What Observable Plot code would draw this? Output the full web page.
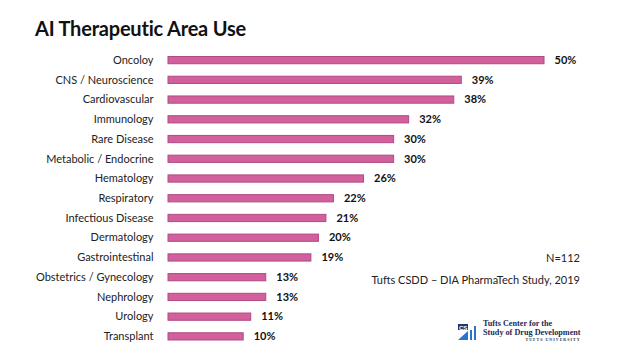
<!DOCTYPE html>
<html>
<head>
<meta charset="utf-8">
<script src="https://cdn.jsdelivr.net/npm/d3@7"></script>
<script src="https://cdn.jsdelivr.net/npm/@observablehq/plot@0.6"></script>
<style>
  html, body { margin: 0; padding: 0; background: #fff; }
  #wrap { position: relative; width: 640px; height: 360px; overflow: hidden; font-family: Lato, "Open Sans", sans-serif; }
  #title { height: 45px; box-sizing: border-box; padding: 16px 0 0 35px; font-size: 20px; font-weight: 700; color: #111; letter-spacing: -0.2px; }
  #chart { height: 315px; }
  #chart svg { display: block; }
  .note { position: absolute; right: 60px; font-size: 11px; color: #222; text-align: right; }
  #logo { position: absolute; left: 458px; top: 320px; display: flex; align-items: center; }
  #logo .icon { width: 20px; height: 16px; margin-right: 5px; }
  #logo .txt { font-family: "Liberation Serif", serif; font-weight: 700; font-size: 8.2px; line-height: 8.5px; color: #1c2a55; }
  #logo .tu { font-size: 4px; letter-spacing: 1px; line-height: 6px; text-align: right; color: #333; }
</style>
</head>
<body>
<div id="wrap">
  <div id="title">AI Therapeutic Area Use</div>
  <div id="chart"></div>
  <div class="note" style="top:251px;">N=112</div>
  <div class="note" style="top:273px;">Tufts CSDD – DIA PharmaTech Study, 2019</div>
  <div id="logo">
    <div class="icon">
      <svg width="20" height="16" viewBox="0 0 20 16">
        <rect x="0" y="0" width="10" height="6" fill="#1e3a70"/>
        <text x="1" y="5.5" font-size="6" fill="#fff" font-family="Liberation Sans" font-weight="700">CS</text>
        <path d="M0 16 L10 7 L10 16 Z" fill="#2a74c9"/>
        <rect x="12" y="6" width="2" height="10" fill="#2a74c9"/>
        <rect x="16" y="2" width="2" height="14" fill="#2a74c9"/>
      </svg>
    </div>
    <div class="txt">Tufts Center for the<br>Study of Drug Development<div class="tu">TUFTS UNIVERSITY</div></div>
  </div>
</div>
<script>
const categories = ["Oncoloy", "CNS / Neuroscience", "Cardiovascular", "Immunology", "Rare Disease", "Metabolic / Endocrine", "Hematology", "Respiratory", "Infectious Disease", "Dermatology", "Gastrointestinal", "Obstetrics / Gynecology", "Nephrology", "Urology", "Transplant"];
const values = [50, 39, 38, 32, 30, 30, 26, 22, 21, 20, 19, 13, 13, 11, 10];

const data = categories.map((c, i) => ({category: c, value: values[i]}));

const chart = Plot.plot({
  width: 640,
  height: 315,
  marginLeft: 168,
  marginRight: 96,
  marginTop: 5,
  marginBottom: 14,
  style: {fontFamily: "Lato, 'Open Sans', sans-serif", background: "transparent"},
  x: {domain: [0, 50], axis: null},
  y: {domain: categories, padding: 0, round: false, label: null},
  marks: [
    Plot.barX(data, {
      x: "value", y: "category",
      fill: "#d2609c", stroke: "#b04a84", strokeWidth: 1,
      insetTop: 6.5, insetBottom: 6
    }),
    Plot.text(data, {
      x: "value", y: "category",
      text: d => d.value + "%",
      textAnchor: "start", dx: 10,
      fontSize: 11, fontWeight: 700, fill: "#111"
    }),
    Plot.axisY({tickSize: 0, tickPadding: 15, fontSize: 11, color: "#222", label: null})
  ]
});
document.getElementById("chart").appendChild(chart);
</script>
</body>
</html>
